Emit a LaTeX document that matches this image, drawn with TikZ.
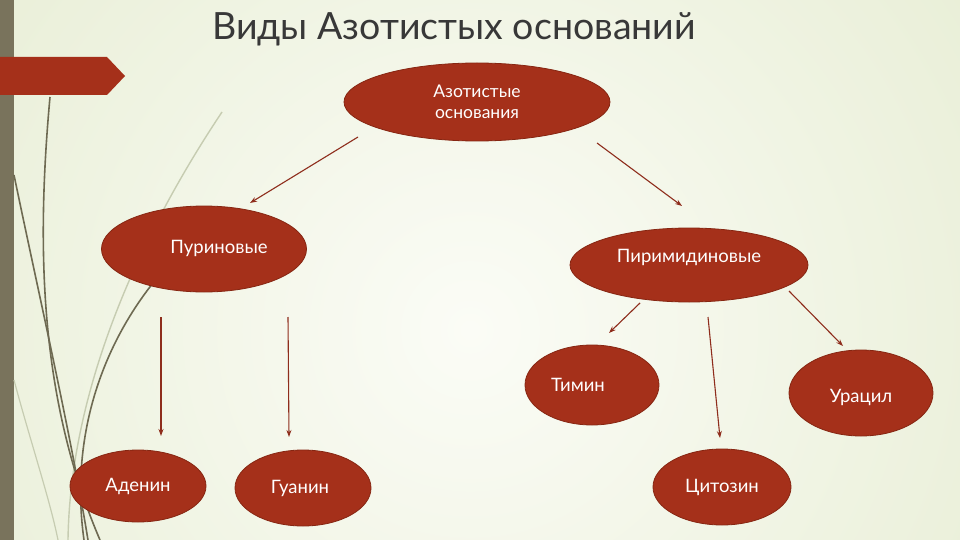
\documentclass[tikz,border=0pt]{standalone}
\usepackage{fontspec}
\setmainfont{Lato}
\usetikzlibrary{shapes.geometric,arrows.meta}
\definecolor{brick}{HTML}{A5301A}
\definecolor{brickdark}{HTML}{862612}
\definecolor{linkred}{HTML}{8E2D1C}
\definecolor{stripe}{HTML}{79735C}
\definecolor{stem}{HTML}{6E6A52}
\definecolor{stemlight}{HTML}{C6CCB1}
\definecolor{paleback}{HTML}{D9E3BC}
\definecolor{paleinner}{HTML}{FBFCF6}
\tikzset{
  oval/.style={ellipse,draw=brickdark,line width=0.8pt,fill=brick,inner sep=0pt},
  lbl/.style={text=white,font=\fontsize{18.5}{22}\selectfont},
  link/.style={linkred,line width=1.1pt,-{Stealth[length=7pt,width=5pt]}},
}
\begin{document}
\begin{tikzpicture}[x=1pt,y=-1pt]
  \useasboundingbox (0,0) rectangle (960,540);
  % background
  \begin{scope}
    \clip (0,0) rectangle (960,540);
    \shade[inner color=paleinner,outer color=paleback] (470,330) circle[radius=1150];
  \end{scope}
  \fill[stripe] (0,0) rectangle (14,540);
  \draw[stemlight,line width=1.4pt] (222,112) .. controls (130,250) and (70,400) .. (68,540);
  \draw[stemlight,line width=1.2pt] (14,380) .. controls (30,440) and (50,500) .. (58,540);
  \draw[stem,line width=1.6pt] (50,97) .. controls (36,250) and (40,400) .. (100,540);
  \draw[stem,line width=1.6pt] (14,175) .. controls (40,300) and (70,430) .. (88,540);
  \draw[stem,line width=1.6pt] (153,283) .. controls (100,350) and (70,440) .. (84,540);
  \fill[brick] (0,57) -- (107,57) -- (125,76) -- (107,95) -- (0,95) -- cycle;
  % title
  \node[anchor=base,text=black!78,font=\fontsize{37.5}{40}\selectfont] (title) at (454,40) {Виды Азотистых оснований};
  % ovals
  \node[oval,minimum width=266,minimum height=78,align=center,lbl,font=\fontsize{17.5}{21}\selectfont] (azot) at (477,102) {Азотистые\\основания};
  \node[oval,minimum width=205,minimum height=86,label={[lbl,xshift=15pt,yshift=1pt]center:Пуриновые}] (purin) at (204,249) {};
  \node[oval,minimum width=238,minimum height=74,label={[lbl,yshift=8pt]center:Пиримидиновые}] (pirim) at (689,265) {};
  \node[oval,minimum width=134,minimum height=80,label={[lbl,xshift=-14pt]center:Тимин}] (timin) at (592,385) {};
  \node[oval,minimum width=144,minimum height=86,label={[lbl,yshift=-4pt]center:Урацил}] (uracil) at (861,393) {};
  \node[oval,minimum width=136,minimum height=72,label={[lbl]center:Аденин}] (adenin) at (138,486) {};
  \node[oval,minimum width=136,minimum height=76,label={[lbl,xshift=-3pt]center:Гуанин}] (guanin) at (303,488) {};
  \node[oval,minimum width=138,minimum height=76,label={[lbl]center:Цитозин}] (citozin) at (722,487) {};
  % connectors
  \foreach \i/\x/\y in {a1/358/137,a2/250/203,b1/597/143,b2/682/206,c1/161/317,c2/161/436,d1/288/317,d2/289/437,e1/640/303,e2/609/333,f1/708/317,f2/720/438,g1/789/291,g2/843/346}
    \coordinate (\i) at (\x,\y);
  \foreach \s/\t in {a1/a2,b1/b2,c1/c2,d1/d2,e1/e2,f1/f2,g1/g2}\draw[link] (\s)--(\t);
\end{tikzpicture}
\end{document}
